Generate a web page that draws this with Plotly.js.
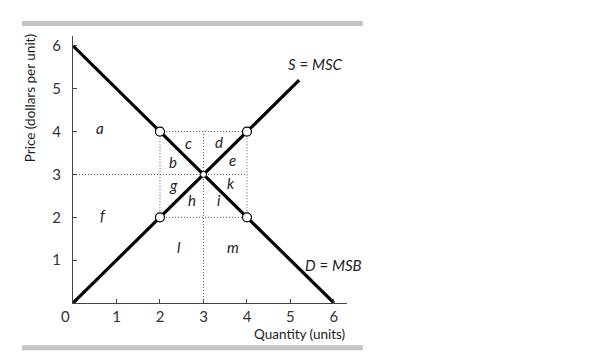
<!DOCTYPE html>
<html>
<head>
<meta charset="utf-8">
<script src="https://cdn.plot.ly/plotly-3.0.1.min.js"></script>
<style>html,body{margin:0;padding:0;background:#fff;}#chart{width:615px;height:352px;}</style>
</head>
<body>
<div id="chart"></div>
<script>
// Demand (D = MSB) and supply (S = MSC)
const demandQ = [0, 6];
const demandP = [6, 0];
const supplyQ = [0, 5.2];
const supplyP = [0, 5.2];

// Open circle points
const cornerQ = [2, 4, 2, 4];
const cornerP = [4, 4, 2, 2];
const eqQ = [3];
const eqP = [3];

// Dotted guide segments [x0, y0, x1, y1]
const guideX0 = [2, 0, 2, 2, 3, 4];
const guideY0 = [4, 3, 2, 2, 0, 2];
const guideX1 = [4, 4, 4, 2, 3, 4];
const guideY1 = [4, 3, 2, 4, 4, 4];

// Area letters
const areaLabels = ['a', 'b', 'c', 'd', 'e', 'f', 'g', 'h', 'i', 'k', 'l', 'm'];
const areaQ = [0.62, 2.31, 2.66, 3.35, 3.66, 0.70, 2.30, 2.73, 3.35, 3.64, 2.44, 3.67];
const areaP = [4.08, 3.29, 3.74, 3.76, 3.33, 2.05, 2.75, 2.40, 2.40, 2.79, 1.31, 1.31];

// Curve labels
const curveLabels = ['S = MSC', 'D = MSB'];
const curveQ = [5.58, 6.0];
const curveP = [5.57, 0.88];

// Axis ticks
const xTicks = [1, 2, 3, 4, 5, 6];
const yTicks = [1, 2, 3, 4, 5, 6];

const FONT = 'Lato, "Open Sans", sans-serif';

const traces = [];
// guides
const gx = [], gy = [];
for (let i = 0; i < guideX0.length; i++) {
  gx.push(guideX0[i], guideX1[i], null);
  gy.push(guideY0[i], guideY1[i], null);
}
traces.push({x: gx, y: gy, mode: 'lines', line: {color: '#555', width: 1, dash: '1px,2px'}, hoverinfo: 'skip', showlegend: false});
traces.push({x: demandQ, y: demandP, mode: 'lines', line: {color: '#000', width: 3.2}, showlegend: false});
traces.push({x: supplyQ, y: supplyP, mode: 'lines', line: {color: '#000', width: 3.2}, showlegend: false});
traces.push({x: cornerQ, y: cornerP, mode: 'markers', marker: {color: '#fff', size: 9, line: {color: '#000', width: 1.2}}, showlegend: false});
traces.push({x: eqQ, y: eqP, mode: 'markers', marker: {color: '#fff', size: 6, line: {color: '#000', width: 1}}, showlegend: false});

const annotations = [];
for (let i = 0; i < areaLabels.length; i++) {
  annotations.push({x: areaQ[i], y: areaP[i], text: '<i>' + areaLabels[i] + '</i>', showarrow: false,
    font: {family: FONT, size: 15, color: '#222'}});
}
for (let i = 0; i < curveLabels.length; i++) {
  const parts = curveLabels[i].split(' = ');
  annotations.push({x: curveQ[i], y: curveP[i], text: '<i>' + parts[0] + '</i> = <i>' + parts[1] + '</i>', showarrow: false,
    font: {family: FONT, size: 15, color: '#222'}});
}
annotations.push({x: 0, y: 0, text: '0', showarrow: false, xshift: -8, yshift: -13,
  font: {family: FONT, size: 15, color: '#333'}});
annotations.push({xref: 'paper', yref: 'paper', x: 1.0, y: -0.115, xanchor: 'right', yanchor: 'middle',
  text: 'Quantity (units)', showarrow: false, font: {family: FONT, size: 13.5, color: '#222'}});
annotations.push({xref: 'paper', yref: 'paper', x: -0.157, y: 0.767, xanchor: 'center', yanchor: 'middle', textangle: -90,
  text: 'Price (dollars per unit)', showarrow: false, font: {family: FONT, size: 13.5, color: '#222'}});

const layout = {
  width: 615, height: 352,
  margin: {l: 73, r: 268, t: 36, b: 49.3},
  paper_bgcolor: '#fff', plot_bgcolor: '#fff',
  xaxis: {range: [0, 6.3], showgrid: false, zeroline: false, showline: true, linecolor: '#444', linewidth: 1,
    tickvals: xTicks, ticks: 'inside', ticklen: 4, tickcolor: '#444',
    tickfont: {family: FONT, size: 15, color: '#333'}, fixedrange: true},
  yaxis: {range: [0, 6.23], showgrid: false, zeroline: false, showline: true, linecolor: '#444', linewidth: 1,
    tickvals: yTicks, ticks: 'inside', ticklen: 4, tickcolor: '#444', ticklabelstandoff: 8,
    tickfont: {family: FONT, size: 15, color: '#333'}, fixedrange: true},
  shapes: [
    {type: 'rect', xref: 'paper', yref: 'paper', x0: -0.186, x1: 1.058, y0: 1.0375, y1: 1.0566, fillcolor: '#c4c4c4', line: {width: 0}},
    {type: 'rect', xref: 'paper', yref: 'paper', x0: -0.186, x1: 1.058, y0: -0.177, y1: -0.1586, fillcolor: '#c4c4c4', line: {width: 0}}
  ],
  annotations: annotations,
  showlegend: false
};

Plotly.newPlot('chart', traces, layout, {displayModeBar: false, staticPlot: true});
</script>
</body>
</html>
